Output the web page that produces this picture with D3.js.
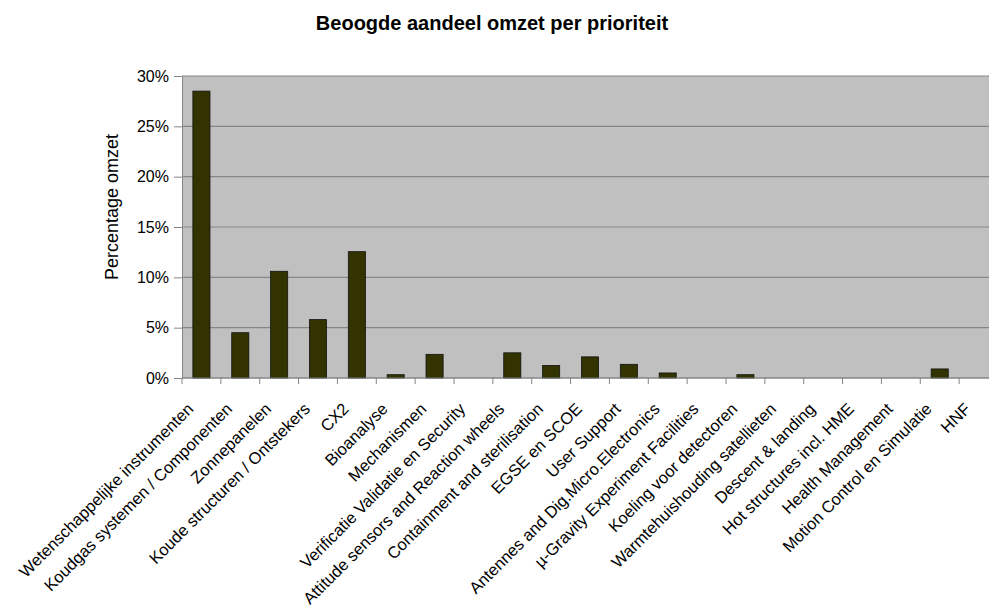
<!DOCTYPE html>
<html>
<head>
<meta charset="utf-8">
<script src="https://cdn.jsdelivr.net/npm/d3@7"></script>
<style>
  body { margin: 0; background: #fff; }
  text { font-family: "Liberation Sans", Arial, sans-serif; fill: #000; }
</style>
</head>
<body>
<svg id="chart"></svg>
<script>
var width = 989, height = 610;

var categories = [
    'Wetenschappelijke instrumenten', 'Koudgas systemen / Componenten', 'Zonnepanelen',
    'Koude structuren / Ontstekers', 'CX2', 'Bioanalyse', 'Mechanismen',
    'Verificatie Validatie en Security', 'Attitude sensors and Reaction wheels',
    'Containment and sterilisation', 'EGSE en SCOE', 'User Support',
    'Antennes and Dig.Micro.Electronics', '\u00b5-Gravity Experiment Facilities',
    'Koeling voor detectoren', 'Warmtehuishouding satellieten', 'Descent & landing',
    'Hot structures incl. HME', 'Health Management', 'Motion Control en Simulatie', 'HNF'
];
var values = [0.285, 0.045, 0.106, 0.058, 0.1255, 0.0033, 0.0235, 0, 0.025, 0.0125,
    0.021, 0.0136, 0.005, 0, 0.0033, 0, 0, 0, 0, 0.009, 0];
var yTicks = [0, 0.05, 0.10, 0.15, 0.20, 0.25, 0.30];

var margin = { top: 76, right: -9, bottom: 232, left: 182 };

var svg = d3.select('#chart')
    .attr('width', width)
    .attr('height', height);

let x = d3.scaleBand()
    .domain(categories)
    .range([margin.left, width - margin.right])
    .paddingInner(0.56)
    .paddingOuter(0.28);

let y = d3.scaleLinear()
    .domain([0, 0.30])
    .range([height - margin.bottom, margin.top]);

// plot background
svg.append('rect')
    .attr('x', margin.left)
    .attr('y', y(0.30))
    .attr('width', width - margin.right - margin.left)
    .attr('height', y(0) - y(0.30))
    .style('fill', '#c0c0c0');

// gridlines
svg.selectAll('line.grid')
    .data(yTicks)
    .enter()
    .append('line')
    .attr('class', 'grid')
    .attr('x1', margin.left)
    .attr('x2', width - margin.right)
    .attr('y1', d => y(d))
    .attr('y2', d => y(d))
    .style('stroke', '#868686')
    .style('stroke-width', 1.2);

// left axis
let yAxis = d3.axisLeft(y)
    .tickValues(yTicks)
    .tickSize(8)
    .tickPadding(5)
    .tickFormat(d3.format('.0%'));

svg.append('g')
    .attr('transform', `translate(${margin.left}, 0)`)
    .call(yAxis)
    .call(g => g.select('.domain').style('stroke', '#868686'))
    .call(g => g.selectAll('.tick line').style('stroke', '#868686'))
    .call(g => g.selectAll('.tick text')
        .style('font-size', '16px')
        .style('font-family', '"Liberation Sans", Arial, sans-serif')
        .style('fill', '#000'));

// bars
svg.selectAll('rect.bar')
    .data(categories)
    .enter()
    .append('rect')
    .attr('class', 'bar')
    .attr('x', d => x(d))
    .attr('width', x.bandwidth())
    .attr('y', (d, i) => y(values[i]))
    .attr('height', (d, i) => y(0) - y(values[i]))
    .style('fill', '#333300')
    .style('stroke', '#111')
    .style('stroke-width', 0.8);

// x axis line and category boundary ticks
svg.append('line')
    .attr('x1', margin.left)
    .attr('x2', width - margin.right)
    .attr('y1', y(0))
    .attr('y2', y(0))
    .style('stroke', '#868686')
    .style('stroke-width', 1.2);

svg.selectAll('line.xtick')
    .data(d3.range(categories.length + 1))
    .enter()
    .append('line')
    .attr('class', 'xtick')
    .attr('x1', i => margin.left + i * x.step())
    .attr('x2', i => margin.left + i * x.step())
    .attr('y1', y(0))
    .attr('y2', y(0) + 6)
    .style('stroke', '#868686');

// category labels
svg.selectAll('text.catLabel')
    .data(categories)
    .enter()
    .append('text')
    .attr('class', 'catLabel')
    .attr('transform', d => `translate(${x(d) + x.bandwidth() / 2 - 7}, ${y(0) + 32}) rotate(-45)`)
    .style('text-anchor', 'end')
    .style('font-size', '16.5px')
    .text(d => d);

// title
svg.append('text')
    .attr('x', 492)
    .attr('y', 30)
    .style('text-anchor', 'middle')
    .style('font-size', '20px')
    .style('font-weight', 'bold')
    .text('Beoogde aandeel omzet per prioriteit');

// y axis title
svg.append('text')
    .attr('transform', 'translate(118, 207) rotate(-90)')
    .style('text-anchor', 'middle')
    .style('font-size', '18px')
    .text('Percentage omzet');
</script>
</body>
</html>
